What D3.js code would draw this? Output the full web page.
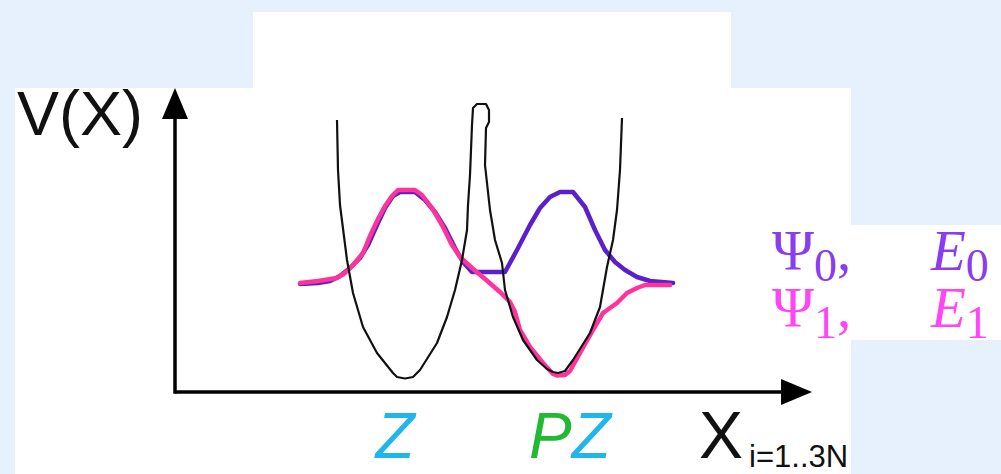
<!DOCTYPE html>
<html>
<head>
<meta charset="utf-8">
<script src="https://cdn.jsdelivr.net/npm/d3@7"></script>
<style>
  html, body { margin: 0; padding: 0; background: #e7f1fd; }
  svg { display: block; }
</style>
</head>
<body>
<svg id="chart" width="1001" height="474"></svg>
<script>
// potential V(X) : [x, V]
var potential = [
  [3.24, 5.44], [3.26, 4.44], [3.30, 3.74], [3.44, 2.64], [3.56, 1.98], [3.76, 1.30],
  [4.04, 0.78], [4.36, 0.38], [4.44, 0.30], [4.60, 0.27], [4.76, 0.30], [4.90, 0.44],
  [5.24, 0.98], [5.44, 1.50], [5.60, 2.04], [5.74, 2.64], [5.84, 3.24], [5.86, 3.74],
  [5.90, 4.34], [5.94, 5.34], [5.96, 5.68], [6.04, 5.76], [6.22, 5.76], [6.28, 5.64],
  [6.28, 5.40], [6.22, 5.28], [6.20, 4.54], [6.30, 3.64], [6.40, 3.04], [6.54, 2.58],
  [6.60, 2.04], [6.76, 1.50], [6.96, 1.04], [7.24, 0.64], [7.44, 0.46], [7.56, 0.40],
  [7.66, 0.38], [7.80, 0.42], [7.96, 0.64], [8.30, 1.18], [8.50, 1.70], [8.64, 2.50],
  [8.76, 3.04], [8.84, 3.64], [8.90, 4.44], [8.94, 5.48]
];

// ground state Psi0
var psi0 = [
  [2.50, 2.16], [2.86, 2.18], [3.10, 2.22], [3.30, 2.32], [3.50, 2.48], [3.70, 2.68],
  [3.86, 2.94], [4.04, 3.34], [4.20, 3.68], [4.36, 3.92], [4.50, 4.00], [4.80, 4.00],
  [5.00, 3.84], [5.20, 3.60], [5.40, 3.28], [5.60, 2.88], [5.76, 2.60], [5.94, 2.40],
  [6.60, 2.40], [6.84, 2.84], [7.10, 3.34], [7.30, 3.68], [7.50, 3.90], [7.70, 4.00],
  [7.96, 4.00], [8.20, 3.70], [8.40, 3.24], [8.60, 2.84], [8.80, 2.60], [9.00, 2.44],
  [9.24, 2.30], [9.50, 2.22], [9.96, 2.18]
];

// first excited state Psi1
var psi1 = [
  [2.50, 2.18], [2.86, 2.22], [3.24, 2.28], [3.40, 2.38], [3.56, 2.54], [3.76, 2.78],
  [3.90, 3.12], [4.06, 3.46], [4.20, 3.72], [4.34, 3.92], [4.46, 4.04], [4.80, 4.04],
  [4.94, 3.94], [5.14, 3.68], [5.34, 3.34], [5.54, 2.94], [5.70, 2.70], [5.94, 2.48],
  [6.20, 2.26], [6.50, 2.00], [6.70, 1.80], [6.80, 1.60], [6.90, 1.24], [7.10, 0.90],
  [7.36, 0.58], [7.56, 0.36], [7.64, 0.33], [7.80, 0.34], [7.90, 0.42], [8.10, 0.78],
  [8.36, 1.24], [8.56, 1.58], [8.84, 1.78], [9.04, 1.98], [9.24, 2.08], [9.40, 2.14],
  [9.90, 2.14]
];

// well labels under the x axis
var wellLabels = [
  { x: 4.40, parts: [{ t: "Z", c: "#1fb6ec" }] },
  { x: 7.90, parts: [{ t: "P", c: "#22b933" }, { t: "Z", c: "#1fb6ec" }] }
];

// legend rows
var legendRows = [
  { n: "0", color: "#8a3cf0" },
  { n: "1", color: "#ff45f5" }
];

var xMax = 12.74, yMax = 6.08;

var svg = d3.select("#chart");

// background panels
svg.append("rect").attr("width", 1001).attr("height", 474).attr("fill", "#e7f1fd");
svg.append("rect").attr("x", 253).attr("y", 12).attr("width", 478).attr("height", 77).attr("fill", "#fff");
svg.append("rect").attr("x", 15).attr("y", 88).attr("width", 836).attr("height", 386).attr("fill", "#fff");
svg.append("rect").attr("x", 851).attr("y", 225).attr("width", 150).attr("height", 115).attr("fill", "#fff");

svg.append("defs").append("clipPath").attr("id", "panelClip")
  .append("rect").attr("x", 15).attr("y", 88).attr("width", 836).attr("height", 386);

var x = d3.scaleLinear().domain([0, xMax]).range([175, 812]);
var y = d3.scaleLinear().domain([0, yMax]).range([392, 88]);

var g = svg.append("g");

/* ------- AXES WITH ARROWS ------- */
var headLen = 31, headW = 13;
g.append("line")
  .attr("x1", x(0)).attr("y1", y(0))
  .attr("x2", x(xMax) - headLen + 2).attr("y2", y(0))
  .attr("stroke", "#000").attr("stroke-width", 3.5);
g.append("line")
  .attr("x1", x(0)).attr("y1", y(0) + 1.75)
  .attr("x2", x(0)).attr("y2", y(yMax) + headLen - 2)
  .attr("stroke", "#000").attr("stroke-width", 3.5);
g.append("path")
  .attr("d", "M" + x(xMax) + "," + y(0) + " L" + (x(xMax) - headLen) + "," + (y(0) - headW) +
             " L" + (x(xMax) - headLen) + "," + (y(0) + headW) + "Z")
  .attr("fill", "#000");
g.append("path")
  .attr("d", "M" + x(0) + "," + y(yMax) + " L" + (x(0) - headW) + "," + (y(yMax) + headLen) +
             " L" + (x(0) + headW) + "," + (y(yMax) + headLen) + "Z")
  .attr("fill", "#000");

/* ------- CURVES ------- */
var line = d3.line()
  .x(function(d) { return x(d[0]); })
  .y(function(d) { return y(d[1]); });

g.append("path").datum(psi0)
  .attr("d", line).attr("fill", "none")
  .attr("stroke", "#5a20cc").attr("stroke-width", 4.5)
  .attr("stroke-linejoin", "round").attr("stroke-linecap", "round");

g.append("path").datum(psi1)
  .attr("d", line).attr("fill", "none")
  .attr("stroke", "#ff3399").attr("stroke-width", 4.5)
  .attr("stroke-linejoin", "round").attr("stroke-linecap", "round");

g.append("path").datum(potential)
  .attr("d", line).attr("fill", "none")
  .attr("stroke", "#111").attr("stroke-width", 2.2)
  .attr("stroke-linejoin", "round");

/* ------- TEXT ------- */
var sans = "'Liberation Sans', Arial, Helvetica, sans-serif";

svg.append("text")
  .attr("clip-path", "url(#panelClip)")
  .attr("x", 17).attr("y", 135)
  .attr("font-family", sans).attr("font-size", 63)
  .attr("fill", "#111")
  .text("V(X)");

wellLabels.forEach(function(w) {
  var t = g.append("text")
    .attr("x", x(w.x)).attr("y", y(0) + 66)
    .attr("text-anchor", "middle")
    .attr("font-family", sans).attr("font-size", 64)
    .attr("font-style", "italic");
  w.parts.forEach(function(p) {
    t.append("tspan").attr("fill", p.c).text(p.t);
  });
});

var xl = g.append("text")
  .attr("x", 699).attr("y", y(0) + 66)
  .attr("font-family", sans).attr("fill", "#111");
xl.append("tspan").attr("font-size", 66).text("X");
xl.append("tspan").attr("font-size", 31).attr("dx", 6).attr("dy", 9).text("i=1..3N");

/* ------- LEGEND ------- */
var serif = "'Liberation Serif', 'DejaVu Serif', serif";
legendRows.forEach(function(r, i) {
  var by = 270 + i * 57;
  var t = svg.append("text")
    .attr("x", 772).attr("y", by)
    .attr("font-family", serif).attr("fill", r.color);
  t.append("tspan").attr("font-size", 57).text("\u03A8");
  t.append("tspan").attr("font-size", 46).attr("dy", 11).text(r.n);
  t.append("tspan").attr("font-size", 57).attr("dy", -11).text(",");
  var e = svg.append("text")
    .attr("x", 931).attr("y", by)
    .attr("font-family", serif).attr("fill", r.color);
  e.append("tspan").attr("font-size", 57).attr("font-style", "italic").text("E");
  e.append("tspan").attr("font-size", 46).attr("dy", 11).text(r.n);
});
</script>
</body>
</html>
